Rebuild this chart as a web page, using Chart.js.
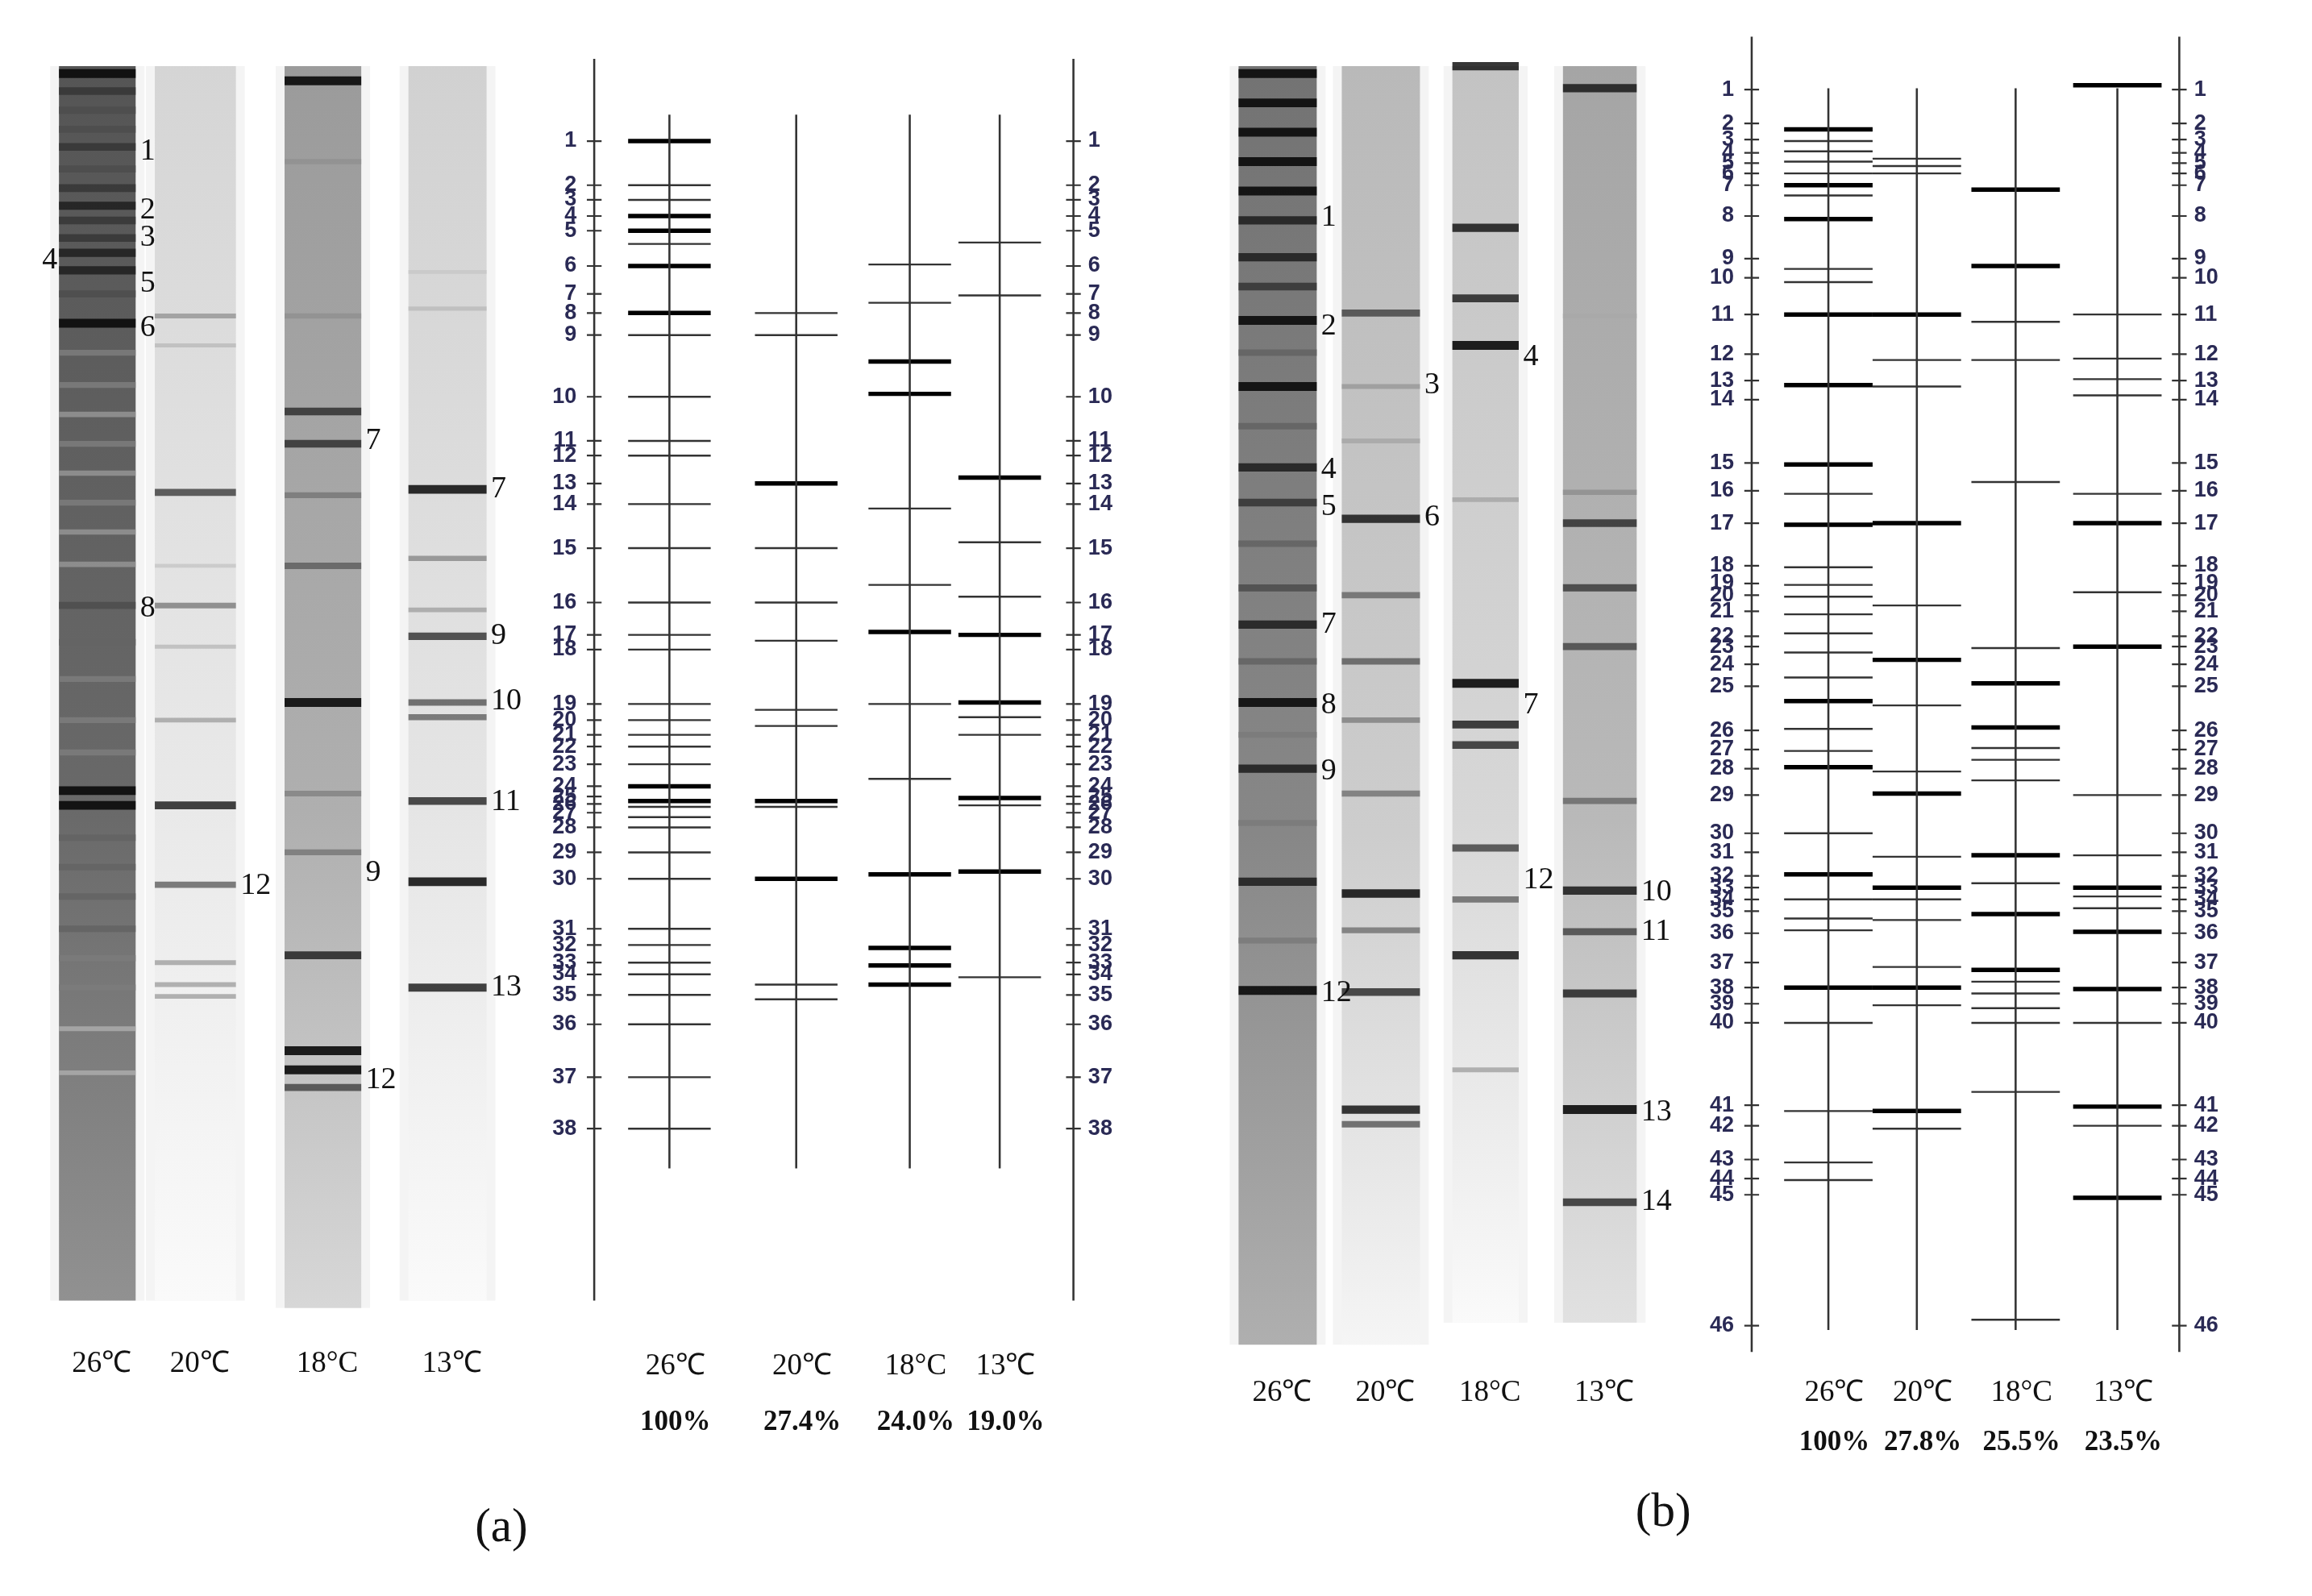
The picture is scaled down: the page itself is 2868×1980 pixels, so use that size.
<!DOCTYPE html>
<html>
<head>
<meta charset="utf-8">
<script src="https://cdn.jsdelivr.net/npm/chart.js@4"></script>
<style>
  html, body { margin: 0; padding: 0; background: #fff; }
  #wrap { width: 2868px; height: 1980px; position: relative; }
</style>
</head>
<body>
<div id="wrap"><canvas id="fig"></canvas></div>
<script>
// figure units: reference drawn at 1568 x 1086, migration positions
const S = 2868 / 1568;

// ---- panel (a) band diagram ----
const markersA = [96,126,136,147,157,181,200,213,228,270,300,310,329,343,373,410,432,442,479,490,500,508,520,535,542,547,553,563,580,598,632,643,655,663,677,697,733,768];
const a26 = [96,126,136,147,157,166,181,213,228,270,300,310,343,373,410,432,442,479,490,500,508,520,535,545,549,556,563,580,598,632,643,655,663,677,697,733,768];
const a26Bold = [96,147,157,181,213,535,545];
const a20 = [213,228,329,373,410,436,483,494,545,549,598,670,680];
const a20Bold = [329,545,598];
const a18 = [180,206,246,268,346,398,430,479,530,595,645,657,670];
const a18Bold = [246,268,430,595,645,657,670];
const a13 = [165,201,325,369,406,432,478,488,500,543,548,593,665];
const a13Bold = [325,432,478,543,593];
const pctA = ['100%', '27.4%', '24.0%', '19.0%'];

// ---- panel (b) band diagram ----
const markersB = [61,84,95,104,111,118,126,147,176,189,214,241,259,272,315,334,356,385,397,405,416,433,440,452,467,497,510,523,541,567,580,596,604,612,620,635,655,672,683,696,752,766,789,802,813,902];
const b26 = [88,96,103,110,118,126,133,149,183,192,214,262,316,336,357,386,398,406,418,431,444,461,477,496,511,522,567,595,612,625,633,672,696,756,791,803];
const b26Bold = [88,126,149,214,262,316,357,477,522,595,672];
const b20 = [108,113,118,214,245,263,356,412,449,480,525,540,583,604,612,626,658,672,684,756,768];
const b20Bold = [214,356,449,540,604,672,756];
const b18 = [129,181,219,245,328,441,465,495,509,517,531,582,601,622,660,668,676,686,696,743,898];
const b18Bold = [129,181,465,495,582,622,660];
const b13 = [58,214,244,258,269,336,356,403,440,541,582,604,610,618,634,673,696,753,766,815];
const b13Bold = [58,356,440,604,634,673,753,815];
const pctB = ['100%', '27.8%', '25.5%', '23.5%'];

const laneNames = ['26℃', '20℃', '18°C', '13℃'];

// ---- gel photographs: [position, darkness] ----
const gelA26 = [[50,1],[62,.8],[75,.7],[88,.7],[100,.8],[115,.7],[128,.8],[140,.9],[150,.8],[162,.8],[172,.9],[184,.9],[200,.7],[220,1],[240,.5],[262,.5],[282,.4],[302,.5],[322,.4],[342,.5],[362,.4],[384,.4],[412,.7],[437,.6],[462,.5],[490,.5],[512,.5],[538,1],[548,1],[570,.6],[590,.6],[610,.6],[632,.6],[652,.5],[672,.5],[700,.3],[730,.3]];
const gelA20 = [[215,.35],[235,.2],[335,.7],[385,.15],[412,.45],[440,.2],[490,.3],[548,.85],[602,.55],[655,.3],[670,.3],[678,.3]];
const gelA18 = [[55,1],[110,.4],[215,.4],[280,.8],[302,.8],[337,.5],[385,.6],[478,1],[540,.45],[580,.5],[650,.85],[715,1],[728,1],[740,.7]];
const gelA13 = [[185,.15],[210,.2],[333,.95],[380,.4],[415,.3],[433,.75],[478,.6],[488,.55],[545,.8],[600,.95],[672,.85]];
const gelB26 = [[50,1],[70,1],[90,1],[110,1],[130,1],[150,.9],[175,.9],[195,.8],[218,1],[240,.6],[263,1],[290,.6],[318,.9],[342,.8],[370,.6],[400,.7],[425,.9],[450,.6],[478,1],[500,.5],[523,.9],[560,.5],[600,.9],[640,.5],[674,1]];
const gelB20 = [[213,.7],[263,.35],[300,.3],[353,.9],[405,.55],[450,.6],[490,.45],[540,.5],[608,.95],[633,.5],[675,.8],[755,.9],[765,.6]];
const gelB18 = [[45,.9],[155,.9],[203,.85],[235,1],[340,.3],[465,1],[493,.85],[507,.8],[577,.7],[612,.55],[650,.9],[728,.3]];
const gelB13 = [[60,.9],[215,.3],[335,.4],[356,.8],[400,.75],[440,.7],[545,.55],[606,.9],[634,.7],[676,.85],[755,1],[818,.8]];

// layout (figure units)
const diagA = { axes: [403, 728], axTop: 40, axBot: 885, lanes: [454, 540, 617, 678], top: 78, bot: 795, half: 28, nameY: 930, pctY: 968 };
const diagB = { axes: [1188, 1478], axTop: 25, axBot: 920, lanes: [1240, 1300, 1367, 1436], top: 60, bot: 905, half: 30, nameY: 948, pctY: 982 };
const gelsA = [
  { x: 40, w: 52, top: 45, bot: 885, base: .7, bands: gelA26, name: '26℃', labels: [[1,103,'r'],[2,143,'r'],[3,162,'r'],[4,177,'l'],[5,193,'r'],[6,223,'r'],[8,414,'r']] },
  { x: 105, w: 55, top: 45, bot: 885, base: .06, bands: gelA20, name: '20℃', labels: [[12,603,'r']] },
  { x: 193, w: 52, top: 45, bot: 890, base: .35, bands: gelA18, name: '18°C', labels: [[7,300,'r'],[9,594,'r'],[12,735,'r']] },
  { x: 277, w: 53, top: 45, bot: 885, base: .08, bands: gelA13, name: '13℃', labels: [[7,333,'r'],[9,433,'r'],[10,477,'r'],[11,546,'r'],[13,672,'r']] }
];
const gelsB = [
  { x: 840, w: 53, top: 45, bot: 915, base: .55, bands: gelB26, name: '26℃', labels: [[1,148,'r'],[2,222,'r'],[4,320,'r'],[5,345,'r'],[7,425,'r'],[8,480,'r'],[9,525,'r'],[12,676,'r']] },
  { x: 910, w: 53, top: 45, bot: 915, base: .2, bands: gelB20, name: '20℃', labels: [[3,262,'r'],[6,352,'r']] },
  { x: 985, w: 45, top: 45, bot: 900, base: .15, bands: gelB18, name: '18°C', labels: [[4,243,'r'],[7,480,'r'],[12,599,'r']] },
  { x: 1060, w: 50, top: 45, bot: 900, base: .3, bands: gelB13, name: '13℃', labels: [[10,607,'r'],[11,634,'r'],[13,757,'r'],[14,818,'r']] }
];

// build line segments as one dataset per style, broken with nulls
function segs(list, x, half) {
  const pts = [];
  list.forEach(y => { pts.push({x: x - half, y}, {x: x + half, y}, {x: x + half, y: null}); });
  return pts;
}
const datasets = [];
function addDiag(d, lanes) {
  const vert = [];
  d.axes.forEach(x => vert.push({x, y: d.axTop}, {x, y: d.axBot}, {x, y: null}));
  d.lanes.forEach(x => vert.push({x, y: d.top}, {x, y: d.bot}, {x, y: null}));
  datasets.push({ data: vert, borderColor: '#333', borderWidth: 1.4 * S });
  lanes.forEach((ln, i) => {
    const thin = ln[0].filter(y => !ln[1].includes(y));
    datasets.push({ data: segs(thin, d.lanes[i], d.half), borderColor: '#333', borderWidth: 1.3 * S });
    datasets.push({ data: segs(ln[1], d.lanes[i], d.half), borderColor: '#000', borderWidth: 3 * S });
  });
}
addDiag(diagA, [[a26, a26Bold], [a20, a20Bold], [a18, a18Bold], [a13, a13Bold]]);
addDiag(diagB, [[b26, b26Bold], [b20, b20Bold], [b18, b18Bold], [b13, b13Bold]]);
// marker ticks on both axes
function addTicks(d, marks) {
  const t = [];
  d.axes.forEach(x => marks.forEach(y => t.push({x: x - 5, y}, {x: x + 5, y}, {x: x + 5, y: null})));
  datasets.push({ data: t, borderColor: '#333', borderWidth: 1.2 * S });
}
addTicks(diagA, markersA);
addTicks(diagB, markersB);
// gel bands
[...gelsA, ...gelsB].forEach(g => {
  g.bands.forEach(([y, k]) => {
    const c = Math.round(235 - 225 * k);
    datasets.push({ data: [{x: g.x, y}, {x: g.x + g.w, y}], borderColor: `rgba(${c},${c},${c},0.9)`, borderWidth: (2 + 4 * k) * S });
  });
});

const figPlugin = {
  id: 'fig',
  beforeDatasetsDraw(chart) {
    const { ctx, scales: { x, y } } = chart;
    ctx.save();
    [...gelsA, ...gelsB].forEach(g => {
      const x0 = x.getPixelForValue(g.x - 6), x1 = x.getPixelForValue(g.x + g.w + 6);
      const y0 = y.getPixelForValue(g.top), y1 = y.getPixelForValue(g.bot);
      ctx.fillStyle = '#f4f4f4';
      ctx.fillRect(x0, y0, x1 - x0, y1 - y0);
      const c = Math.round(245 - 200 * g.base);
      const lo = Math.min(250, c + 40);
      const gr = ctx.createLinearGradient(0, y0, 0, y1);
      gr.addColorStop(0, `rgb(${c - 20},${c - 20},${c - 20})`);
      gr.addColorStop(0.6, `rgb(${c},${c},${c})`);
      gr.addColorStop(1, `rgb(${lo},${lo},${lo})`);
      ctx.fillStyle = gr;
      const a = x.getPixelForValue(g.x), b = x.getPixelForValue(g.x + g.w);
      ctx.fillRect(a, y0, b - a, y1 - y0);
    });
    ctx.restore();
  },
  afterDatasetsDraw(chart) {
    const { ctx, scales: { x, y } } = chart;
    const px = v => x.getPixelForValue(v), py = v => y.getPixelForValue(v);
    const serif = '"Liberation Serif", "Times New Roman", serif';
    ctx.save();
    ctx.textBaseline = 'middle';
    // marker numbers
    ctx.font = `bold ${Math.round(15 * S)}px "Liberation Sans", Arial, sans-serif`;
    ctx.fillStyle = '#2a2a55';
    [[diagA, markersA], [diagB, markersB]].forEach(([d, m]) => {
      m.forEach((v, i) => {
        ctx.textAlign = 'right';
        ctx.fillText(String(i + 1), px(d.axes[0] - 12), py(v));
        ctx.textAlign = 'left';
        ctx.fillText(String(i + 1), px(d.axes[1] + 10), py(v));
      });
    });
    // lane names and percentages
    ctx.fillStyle = '#111';
    [diagA, diagB].forEach((d, k) => {
      const p = k ? pctB : pctA;
      d.lanes.forEach((lx, i) => {
        ctx.textAlign = 'center';
        ctx.font = `${Math.round(20 * S)}px ${serif}`;
        ctx.fillText(laneNames[i], px(lx + 4), py(d.nameY));
        ctx.font = `bold ${Math.round(19 * S)}px ${serif}`;
        ctx.fillText(p[i], px(lx + 4), py(d.pctY));
      });
    });
    // gel labels
    [...gelsA, ...gelsB].forEach((g, i) => {
      ctx.font = `${Math.round(20 * S)}px ${serif}`;
      ctx.textAlign = 'center';
      ctx.fillText(g.name, px(g.x + g.w / 2 + 3), py(i < 4 ? 928 : 948));
      ctx.font = `${Math.round(21 * S)}px ${serif}`;
      g.labels.forEach(([n, v, side]) => {
        if (side === 'l') { ctx.textAlign = 'right'; ctx.fillText(String(n), px(g.x - 1), py(v)); }
        else { ctx.textAlign = 'left'; ctx.fillText(String(n), px(g.x + g.w + 3), py(v)); }
      });
    });
    ctx.font = `${Math.round(32 * S)}px ${serif}`;
    ctx.textAlign = 'center';
    ctx.fillText('(a)', px(340), py(1040));
    ctx.fillText('(b)', px(1128), py(1030));
    ctx.restore();
  }
};

new Chart(document.getElementById('fig'), {
  type: 'line',
  data: { datasets },
  options: {
    responsive: true,
    maintainAspectRatio: false,
    animation: false,
    events: [],
    layout: { padding: 0 },
    datasets: { line: { pointRadius: 0, spanGaps: false, fill: false, tension: 0, borderCapStyle: 'butt' } },
    plugins: { legend: { display: false }, tooltip: { enabled: false } },
    scales: {
      x: { type: 'linear', min: 0, max: 1568, display: false },
      y: { type: 'linear', min: 0, max: 1086, reverse: true, display: false }
    }
  },
  plugins: [figPlugin]
});
</script>
</body>
</html>
